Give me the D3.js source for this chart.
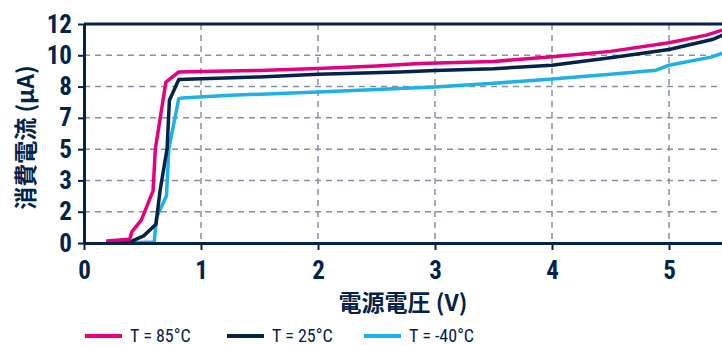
<!DOCTYPE html>
<html>
<head>
<meta charset="utf-8">
<script src="https://cdn.jsdelivr.net/npm/d3@7"></script>
<style>
  body { margin: 0; background: #fff; }
  text { fill: #03234b; }
  .tick text { font-family: "Liberation Sans Narrow", "Roboto Condensed", "DejaVu Sans Condensed", Roboto, sans-serif; font-stretch: condensed; font-weight: bold; font-size: 25px; }
</style>
</head>
<body>
<div id="chart"></div>
<script>
// values
var voltage85 = [0.19, 0.39, 0.41, 0.49, 0.59, 0.61, 0.70, 0.81, 1.0, 1.5, 2.0, 2.5, 2.87, 3.5, 4.0, 4.5, 5.0, 5.32, 5.5];
var current85 = [0.11, 0.2, 0.62, 1.25, 2.86, 5.16, 8.82, 9.37, 9.40, 9.45, 9.56, 9.70, 9.84, 9.95, 10.2, 10.5, 10.97, 11.39, 11.75];

var voltage25 = [0.19, 0.41, 0.51, 0.615, 0.65, 0.71, 0.73, 0.81, 1.0, 1.5, 2.0, 2.7, 3.0, 3.5, 4.0, 4.5, 5.0, 5.37, 5.5];
var current25 = [0.02, 0.1, 0.39, 1.03, 2.86, 5.16, 7.82, 8.96, 9.0, 9.1, 9.25, 9.37, 9.45, 9.55, 9.74, 10.15, 10.6, 11.15, 11.5];

var voltageM40 = [0.42, 0.60, 0.62, 0.705, 0.725, 0.81, 0.84, 1.25, 2.0, 2.7, 3.0, 3.5, 4.0, 4.5, 4.89, 5.0, 5.37, 5.5];
var currentM40 = [0.02, 0.05, 1.39, 2.59, 5.16, 7.91, 7.94, 8.09, 8.28, 8.46, 8.55, 8.75, 8.98, 9.25, 9.47, 9.74, 10.2, 10.5];

var xTicks = [0, 1, 2, 3, 4, 5];
var yTicks = [0, 12 / 7, 24 / 7, 36 / 7, 48 / 7, 60 / 7, 72 / 7, 12];
var yTickLabels = ["0", "2", "3", "5", "7", "8", "10", "12"];

var seriesNames = ["T = 85°C", "T = 25°C", "T = -40°C"];
var colors = ["#e6007e", "#03234b", "#1eb1e6"];

var svgWidth = 722, svgHeight = 345;
var margin = { top: 24, left: 84, right: 0, bottom: 102 };
var width = 117 * 5.5;
var height = 219;

var svg = d3.select("#chart").append("svg")
    .attr("width", svgWidth)
    .attr("height", svgHeight);

var chartGroup = svg.append("g")
    .attr("transform", `translate(${margin.left}, ${margin.top})`);

var x = d3.scaleLinear().domain([0, 5.5]).range([0, width]);
var y = d3.scaleLinear().domain([0, 12]).range([height, 0]);

// dashed grid
chartGroup.append("g")
    .selectAll("line")
    .data(yTicks.slice(1, -1))
    .enter().append("line")
    .attr("x1", 0).attr("x2", width)
    .attr("y1", d => y(d)).attr("y2", d => y(d))
    .attr("stroke", "#8590a6")
    .attr("stroke-width", 1.5)
    .attr("stroke-dasharray", "6,5");

chartGroup.append("g")
    .selectAll("line")
    .data(xTicks.slice(1))
    .enter().append("line")
    .attr("x1", d => x(d)).attr("x2", d => x(d))
    .attr("y1", 0).attr("y2", height)
    .attr("stroke", "#8590a6")
    .attr("stroke-width", 1.5)
    .attr("stroke-dasharray", "6,5");

// series
var line = d3.line()
    .x(d => x(d[0]))
    .y(d => y(d[1]));

var series = [
    d3.zip(voltage85, current85),
    d3.zip(voltage25, current25),
    d3.zip(voltageM40, currentM40)
];

// draw coldest first so pink stays on top
[2, 1, 0].forEach(function(i) {
    chartGroup.append("path")
        .datum(series[i])
        .attr("fill", "none")
        .attr("stroke", colors[i])
        .attr("stroke-width", 3.5)
        .attr("stroke-linejoin", "round")
        .attr("d", line);
});

// axes
var xAxis = d3.axisBottom(x).tickValues(xTicks).tickSize(7).tickSizeOuter(0).tickPadding(11)
    .tickFormat(d3.format("d"));
var yAxis = d3.axisLeft(y).tickValues(yTicks).tickSize(6).tickSizeOuter(0).tickPadding(6)
    .tickFormat((d, i) => yTickLabels[i]);

var gx = chartGroup.append("g")
    .attr("transform", `translate(0, ${height})`)
    .call(xAxis);
var gy = chartGroup.append("g").call(yAxis);

[gx, gy].forEach(function(g) {
    g.select(".domain").attr("stroke", "#03234b").attr("stroke-width", 3);
    g.selectAll(".tick line").attr("stroke", "#03234b").attr("stroke-width", 2);
    g.selectAll(".tick text").attr("fill", "#03234b");
});

// top border
chartGroup.append("line")
    .attr("x1", 0).attr("x2", width)
    .attr("y1", y(12)).attr("y2", y(12))
    .attr("stroke", "#03234b")
    .attr("stroke-width", 3);

// axis titles
var titleFont = "'Noto Sans CJK JP', sans-serif";
svg.append("text")
    .attr("x", margin.left + (722 - margin.left) / 2)
    .attr("y", 311)
    .attr("text-anchor", "middle")
    .style("font-family", titleFont)
    .style("font-weight", "bold")
    .style("font-size", "23px")
    .text("電源電圧 (V)");

svg.append("text")
    .attr("transform", `translate(34, ${margin.top + height / 2 + 4}) rotate(-90)`)
    .attr("text-anchor", "middle")
    .style("font-family", titleFont)
    .style("font-weight", "bold")
    .style("font-size", "23px")
    .text("消費電流 (μA)");

// legend
var legendX = [85, 227, 364];
var legend = svg.append("g");
seriesNames.forEach(function(name, i) {
    legend.append("line")
        .attr("x1", legendX[i]).attr("x2", legendX[i] + 37)
        .attr("y1", 336).attr("y2", 336)
        .attr("stroke", colors[i])
        .attr("stroke-width", 4);
    legend.append("text")
        .attr("x", legendX[i] + 45)
        .attr("y", 342)
        .style("font-family", "'Liberation Sans Narrow', 'Roboto Condensed', 'DejaVu Sans Condensed', Roboto, sans-serif")
        .style("font-stretch", "condensed")
        .style("font-size", "18px")
        .text(name);
});
</script>
</body>
</html>
